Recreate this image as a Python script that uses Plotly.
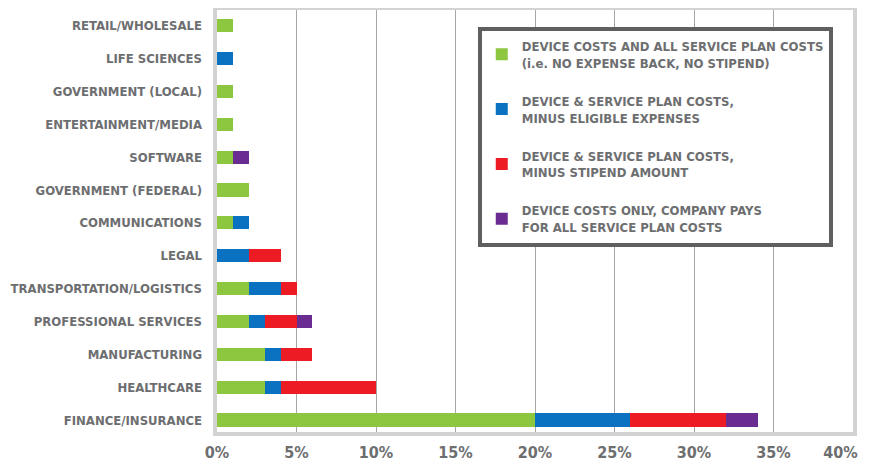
import plotly.graph_objects as go

categories = ["FINANCE/INSURANCE", "HEALTHCARE", "MANUFACTURING", "PROFESSIONAL SERVICES",
              "TRANSPORTATION/LOGISTICS", "LEGAL", "COMMUNICATIONS", "GOVERNMENT (FEDERAL)",
              "SOFTWARE", "ENTERTAINMENT/MEDIA", "GOVERNMENT (LOCAL)", "LIFE SCIENCES",
              "RETAIL/WHOLESALE"]

all_costs      = [20, 3, 3, 2, 2, 0, 1, 2, 1, 1, 1, 0, 1]
minus_expenses = [6, 1, 1, 1, 2, 2, 1, 0, 0, 0, 0, 1, 0]
minus_stipend  = [6, 6, 2, 2, 1, 2, 0, 0, 0, 0, 0, 0, 0]
device_only    = [2, 0, 0, 1, 0, 0, 0, 0, 1, 0, 0, 0, 0]

series_names = [
    "DEVICE COSTS AND ALL SERVICE PLAN COSTS<br>(i.e. NO EXPENSE BACK, NO STIPEND)",
    "DEVICE & SERVICE PLAN COSTS,<br>MINUS ELIGIBLE EXPENSES",
    "DEVICE & SERVICE PLAN COSTS,<br>MINUS STIPEND AMOUNT",
    "DEVICE COSTS ONLY, COMPANY PAYS<br>FOR ALL SERVICE PLAN COSTS",
]
series_values = [all_costs, minus_expenses, minus_stipend, device_only]
colors = ["#8dc63f", "#0b72c1", "#ed1c24", "#6a2c91"]

x_ticks = [0, 5, 10, 15, 20, 25, 30, 35, 40]
x_tick_labels = ["0%", "5%", "10%", "15%", "20%", "25%", "30%", "35%", "40%"]

FONT = "DejaVu Sans Condensed, Roboto, sans-serif"
GRAY = "#6d6e70"

W, H = 862, 459
L, R, T, B = 209, 17, 2, 35
pw, ph = W - L - R, H - T - B

# keep the last label inside the page (padding on its right side only)
tick_text = [t + ("\u00a0" * 5 if i == len(x_tick_labels) - 1 else "")
             for i, t in enumerate(x_tick_labels)]

fig = go.Figure()
for i, (name, vals, col) in enumerate(zip(series_names, series_values, colors)):
    fig.add_trace(go.Bar(
        y=categories, x=vals, name=name, orientation="h",
        marker=dict(color=col, line=dict(width=0)),
        width=0.4, legendgroup=f"g{i}",
    ))

fig.update_layout(
    width=W, height=H,
    margin=dict(l=L, r=R, t=T, b=B),
    barmode="stack",
    plot_bgcolor="white", paper_bgcolor="white",
    font=dict(family=FONT, color=GRAY, size=13, weight="bold"),
    showlegend=True,
    legend=dict(
        x=0.41, y=0.96, xanchor="left", yanchor="top",
        bgcolor="white", bordercolor="#5f5f5f", borderwidth=4,
        font=dict(family=FONT, size=13, color=GRAY, weight="bold"),
        traceorder="grouped", tracegroupgap=18,
    ),
    xaxis=dict(
        range=[0, 40], tickvals=x_ticks, ticktext=tick_text,
        showgrid=True, gridcolor="#a6a6a6", gridwidth=1,
        zeroline=False, showline=False, ticks="", automargin=False,
        tickfont=dict(family=FONT, size=16, color=GRAY, weight="bold"),
        ticklabelstandoff=9, ticklabeloverflow="allow",
    ),
    yaxis=dict(
        categoryorder="array", categoryarray=categories,
        range=[-0.365, 12.478], showgrid=False, zeroline=False, showline=False,
        ticks="", ticklabelstandoff=14, automargin=False,
        tickfont=dict(family=FONT, size=13, color=GRAY, weight="bold"),
    ),
    shapes=[dict(type="rect", xref="paper", yref="paper",
                 x0=-2 / pw, x1=1 + 2 / pw, y0=-2 / ph, y1=1 + 2 / ph,
                 line=dict(color="#d3d3d3", width=4), layer="above")],
)

fig.write_html("out.html")
